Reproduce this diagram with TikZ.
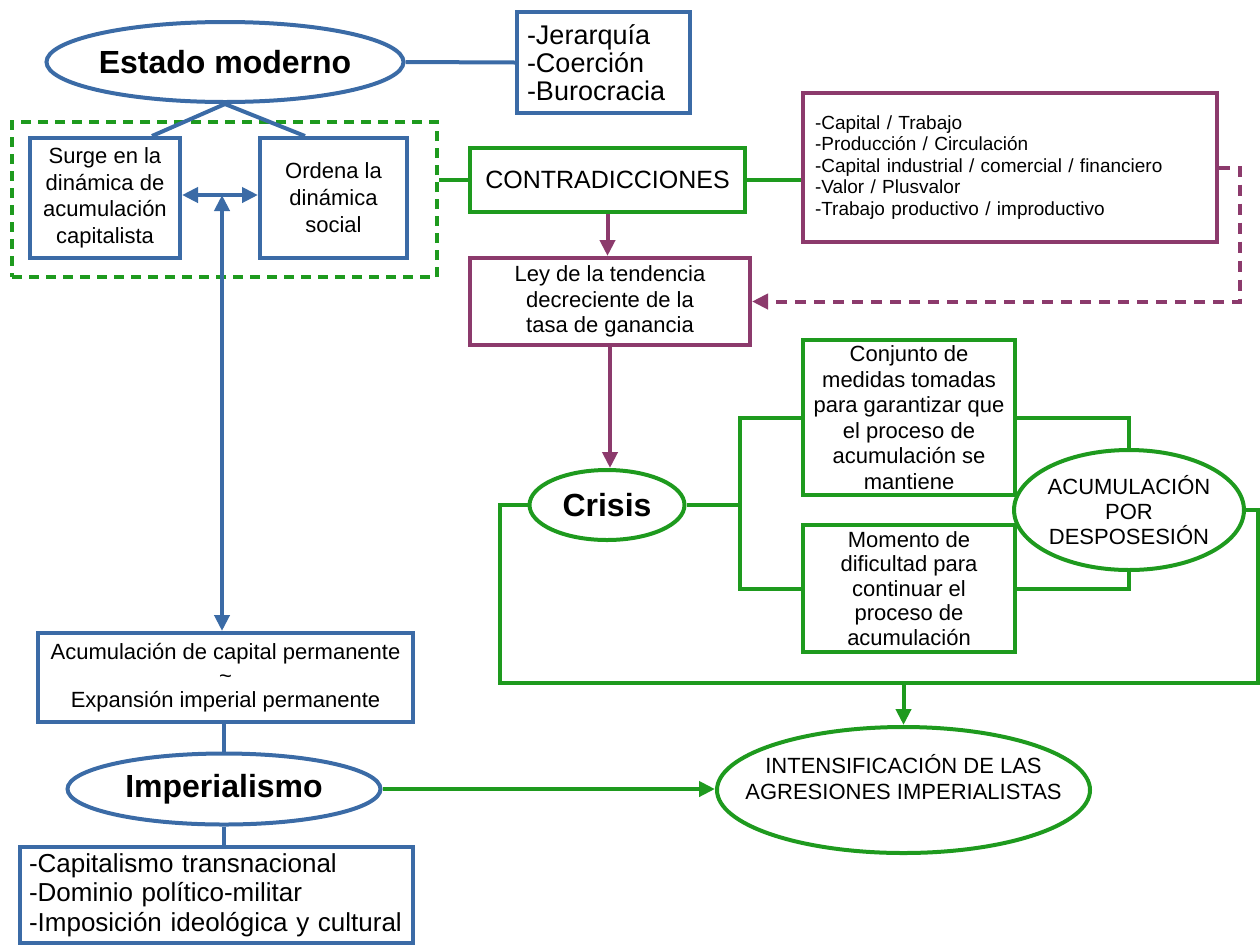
\documentclass[tikz,border=0pt]{standalone}
\usepackage{fontspec}
\setmainfont{Liberation Sans}
\usetikzlibrary{shapes.geometric,arrows.meta}
\definecolor{eblue}{HTML}{3B6BA6}
\definecolor{egreen}{HTML}{1E9A1E}
\definecolor{epurple}{HTML}{8C3A6C}

\begin{document}
\begin{tikzpicture}[x=1pt,y=-1pt,line width=4pt,
  box/.style={draw,rectangle,inner sep=0pt,align=center},
  oval/.style={draw,ellipse,inner sep=0pt,align=center},
  tip/.style={-{Triangle[length=16pt,width=15pt]}},
  tips/.style={{Triangle[length=16pt,width=15pt]}-{Triangle[length=16pt,width=15pt]}},
  fbig/.style={font=\bfseries\fontsize{32}{36}\selectfont},
  fmid/.style={font=\fontsize{22}{25.5}\selectfont},
  flist/.style={font=\fontsize{26}{29.5}\selectfont}]
\useasboundingbox (0,0) rectangle (1260,946);

% ---- State block (blue)
\node[draw=egreen,dash pattern=on 10pt off 7pt,rectangle,minimum width=425pt,minimum height=155pt] (group) at (224.5,199.5) {};
\node[oval,draw=eblue,fbig,minimum width=314pt,minimum height=80pt] (estado) at (225,62) {Estado moderno};
\node[box,draw=eblue,align=left,minimum width=173pt,minimum height=101pt,text width=153pt,
      font=\fontsize{27}{28}\selectfont] (jer) at (603.5,62.5) {-Jerarquía\\-Coerción\\-Burocracia};
\node[box,draw=eblue,font=\fontsize{22}{26.5}\selectfont,minimum width=150pt,minimum height=120pt] (surge) at (105,198)
  {Surge en la\\dinámica de\\acumulación\\capitalista};
\node[box,draw=eblue,font=\fontsize{22}{27}\selectfont,minimum width=147pt,minimum height=120pt] (ordena) at (333.5,198)
  {Ordena la\\dinámica\\social};

\draw[eblue] (estado.east) -- (jer.west);
\draw[eblue] (estado.south) -- ([xshift=47pt]surge.north);
\draw[eblue] (estado.south) -- ([xshift=-28.5pt]ordena.north);

% ---- Contradictions (green / purple)
\node[box,draw=egreen,font=\fontsize{25}{28}\selectfont,minimum width=275pt,minimum height=64pt] (contra) at (607.5,180) {CONTRADICCIONES};
\node[box,draw=epurple,align=left,minimum width=414pt,minimum height=149pt,text width=390pt,
      font=\fontsize{19}{21.5}\selectfont] (plist) at (1010,167.5)
  {-Capital / Trabajo\\-Producción / Circulación\\-Capital industrial / comercial / financiero\\-Valor / Plusvalor\\-Trabajo productivo / improductivo};
\node[box,draw=epurple,fmid,minimum width=280pt,minimum height=87pt] (ley) at (610,301.5)
  {Ley de la tendencia\\decreciente de la\\tasa de ganancia};

\draw[egreen] (group.east |- contra.west) -- (contra.west);
\draw[egreen] (contra.east) -- (contra.east -| plist.west);
\draw[epurple,tip] (contra.south) -- (contra.south |- ley.north);
\coordinate (pd) at (1240,167.5);
\draw[epurple,tip,dash pattern=on 11pt off 8pt] (plist.east) -- (pd) |- (ley.east);

% ---- Crisis block (green)
\node[oval,draw=egreen,fbig,minimum width=155pt,minimum height=70pt] (crisis) at (607,505) {Crisis};
\node[box,draw=egreen,fmid,minimum width=212pt,minimum height=155pt] (conj) at (909,417.5)
  {Conjunto de\\medidas tomadas\\para garantizar que\\el proceso de\\acumulación se\\mantiene};
\node[box,draw=egreen,font=\fontsize{22}{24.5}\selectfont,minimum width=212pt,minimum height=127pt] (mom) at (909,588.5)
  {Momento de\\dificultad para\\continuar el\\proceso de\\acumulación};
\node[oval,draw=egreen,font=\fontsize{22}{25}\selectfont,minimum width=218pt,minimum height=120pt] (apd) at (1129,510)
  {ACUMULACIÓN\\POR\\DESPOSESIÓN};
\node[oval,draw=egreen,minimum width=373pt,minimum height=126pt,
      label={[fmid,align=center,yshift=13pt]center:INTENSIFICACIÓN DE LAS\\AGRESIONES IMPERIALISTAS}] (intens) at (903.5,790) {};

\draw[epurple,tip] (ley.south) -- (ley.south |- crisis.north);
\coordinate (cb) at (740,505);
\draw[egreen] (crisis.east) -- (cb);
\draw[egreen] (conj.west) -| (cb) |- (mom.west);
\draw[egreen] (conj.east) -| (apd.north);
\draw[egreen] (mom.east) -| (apd.south);
\coordinate (lw) at (500,683);
\coordinate (re) at (1258,683);
\coordinate (jn) at (903.5,683);
\draw[egreen] (crisis.west) -| (lw) -- (re) |- (apd.east);
\draw[egreen,tip] (jn) -- (intens.north);

% ---- Imperialism block (blue)
\node[box,draw=eblue,font=\fontsize{22}{24}\selectfont,minimum width=375pt,minimum height=89pt] (acum) at (225.5,677.5)
  {Acumulación de capital permanente\\\textasciitilde\\Expansión imperial permanente};
\node[oval,draw=eblue,fbig,minimum width=313pt,minimum height=71pt] (imp) at (224,789) {Imperialismo};
\node[box,draw=eblue,flist,align=left,minimum width=393pt,minimum height=96pt,text width=375pt] (cap) at (216.5,895)
  {-Capitalismo transnacional\\-Dominio político-militar\\-Imposición ideológica y cultural};

\coordinate (hub) at (222,195);
\draw[eblue,tips] (surge.east |- hub) -- (ordena.west |- hub);
\draw[eblue,tips] (hub) -- (hub |- acum.north);
\draw[eblue] (imp.north |- acum.south) -- (imp.north);
\draw[eblue] (imp.south) -- (imp.south |- cap.north);
\draw[egreen,tip] (imp.east) -- (imp.east -| intens.west);
\end{tikzpicture}
\end{document}
